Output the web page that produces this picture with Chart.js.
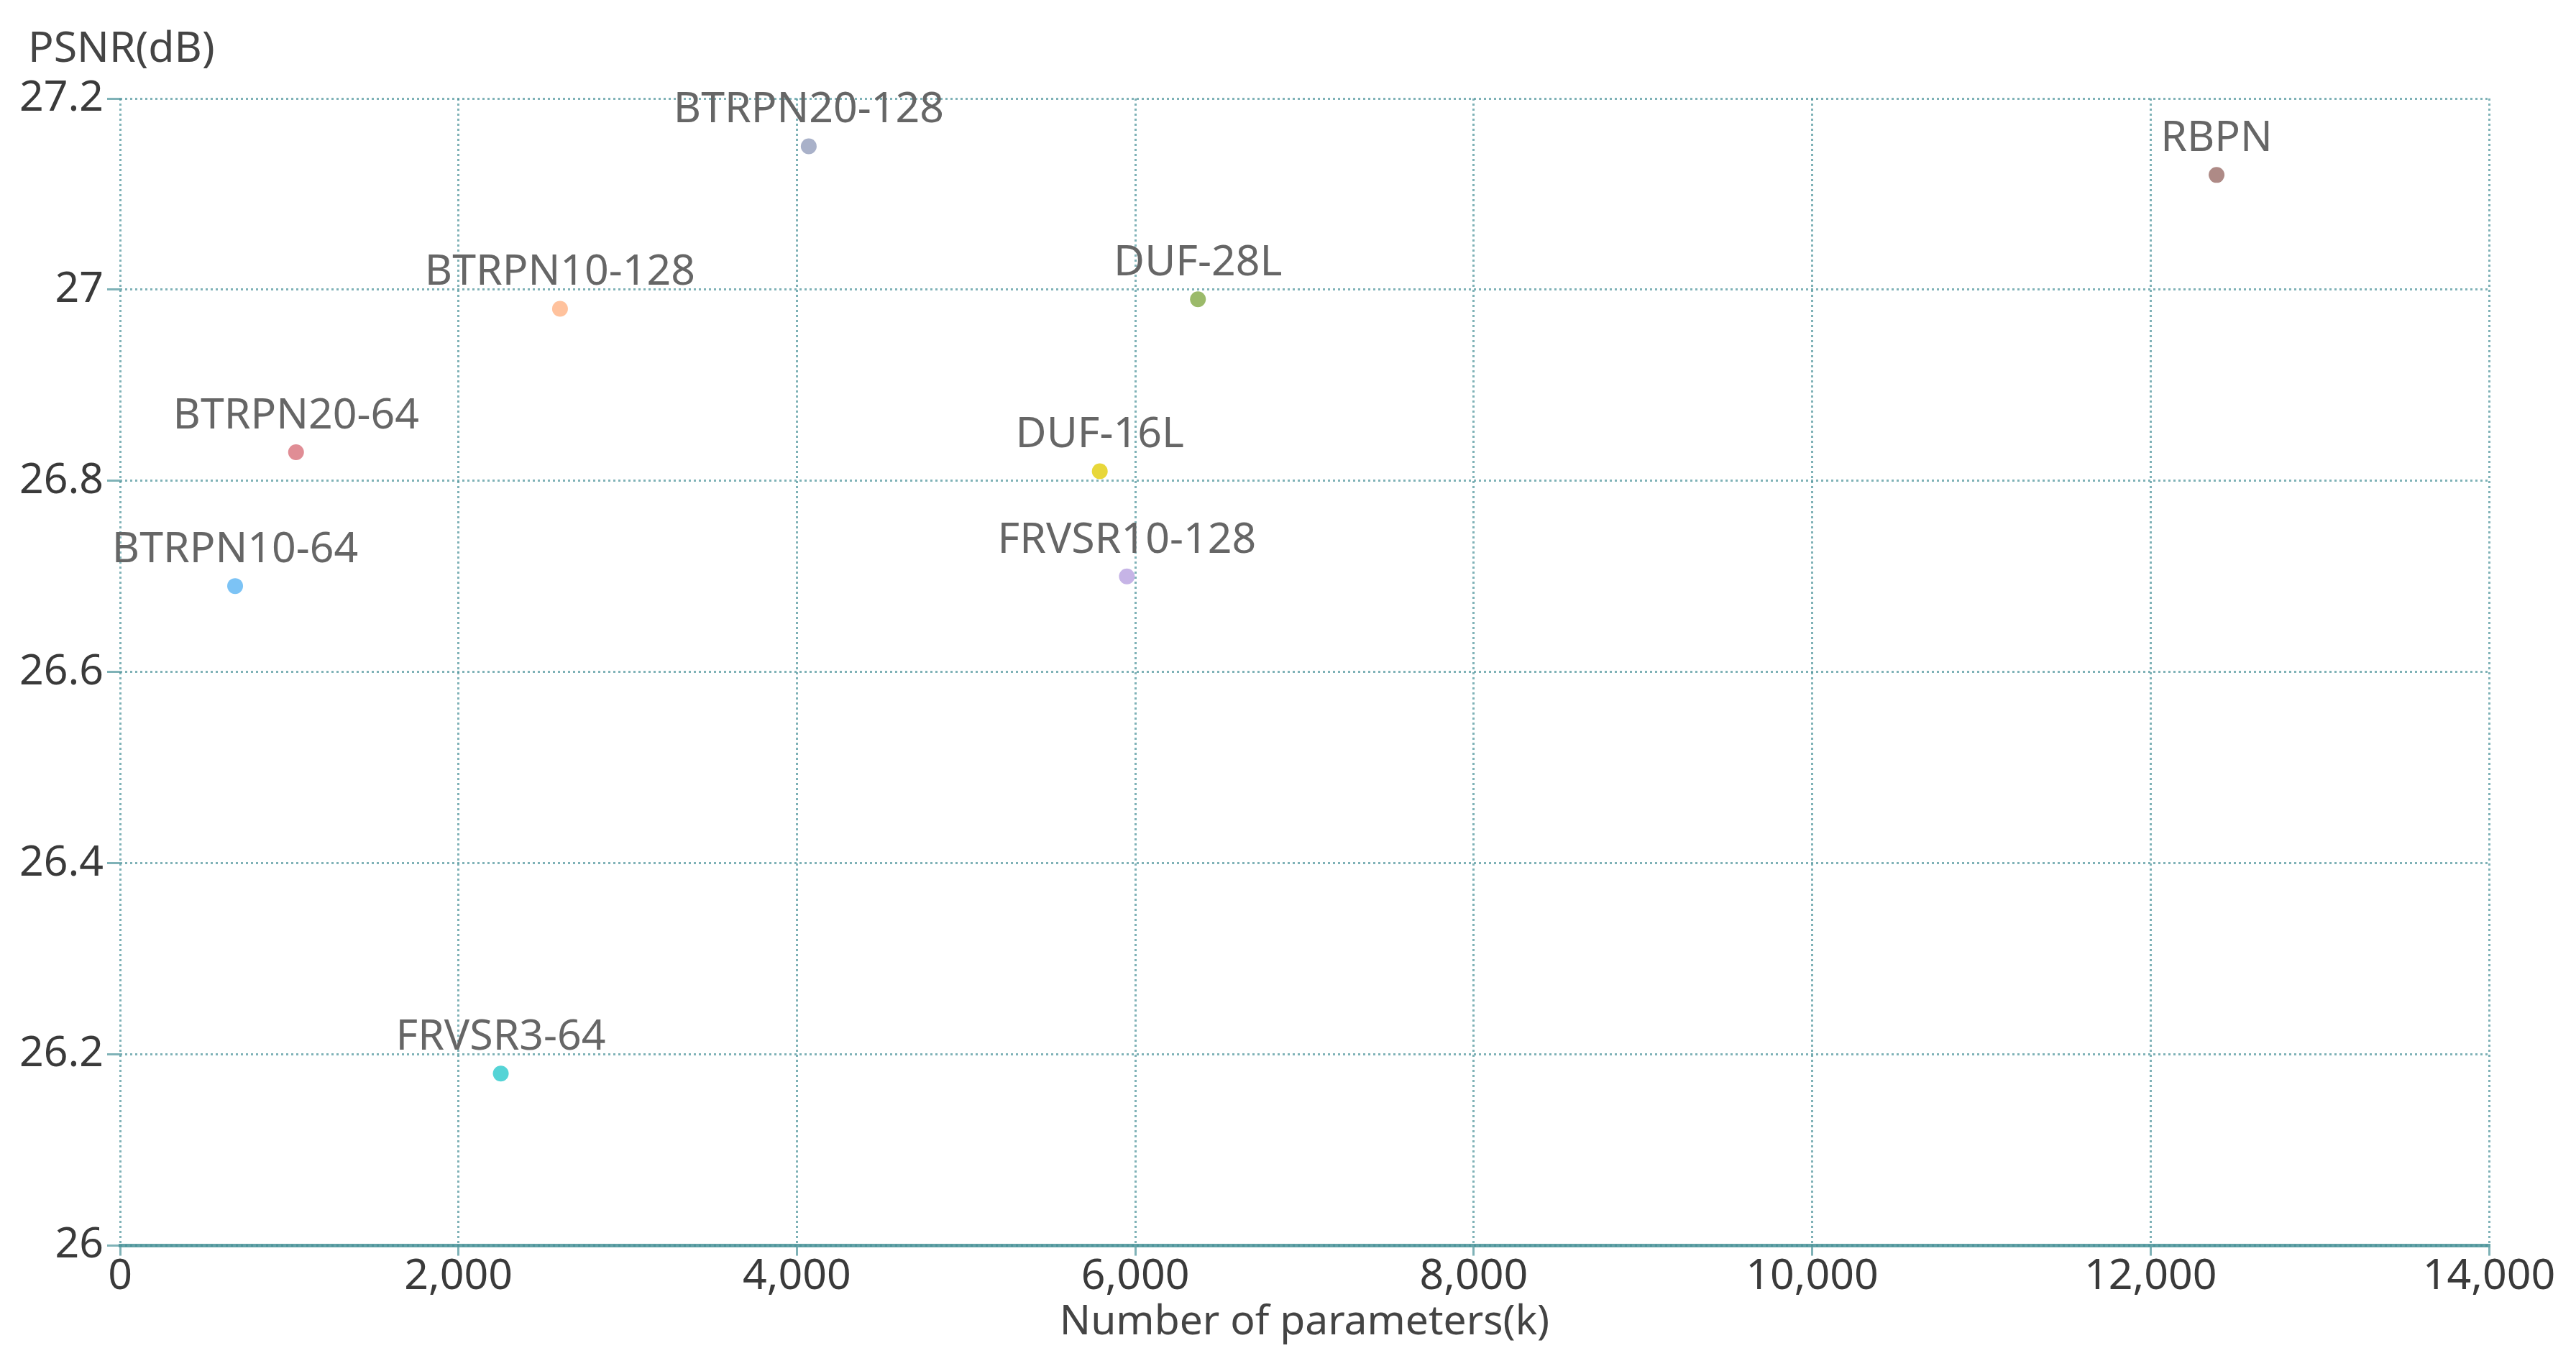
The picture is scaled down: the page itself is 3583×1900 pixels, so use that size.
<!DOCTYPE html>
<html>
<head>
<meta charset="utf-8">
<script src="https://cdn.jsdelivr.net/npm/chart.js@4.4.0/dist/chart.umd.min.js"></script>
<style>
  body { margin: 0; background: #fff; }
  canvas { display: block; }
</style>
</head>
<body>
<canvas id="psnrChart" width="3583" height="1900"></canvas>
<script>
// models and their values
const models = ['BTRPN10-64', 'BTRPN20-64', 'BTRPN10-128', 'BTRPN20-128', 'FRVSR3-64', 'DUF-16L', 'FRVSR10-128', 'DUF-28L', 'RBPN'];
const params = [680, 1040, 2600, 4070, 2250, 5790, 5950, 6370, 12390];
const psnr = [26.69, 26.83, 26.98, 27.15, 26.18, 26.81, 26.70, 26.99, 27.12];
const pointColors = ['#7cc3f5', '#e08d95', '#ffc29d', '#a9b1c9', '#55d4d6', '#e8d73a', '#c6b4e6', '#9bba6a', '#ae8a86'];
const yTitle = 'PSNR(dB)';
const xTitle = 'Number of parameters(k)';

const fontFamily = '"Noto Sans", "Open Sans", sans-serif';
const gridColor = 'rgba(72, 146, 152, 0.7)';

// writes the model name above each point, and the y title above the axis
const pointLabels = {
  id: 'pointLabels',
  afterDatasetsDraw(chart) {
    const ctx = chart.ctx;
    const meta = chart.getDatasetMeta(0);
    ctx.save();
    ctx.font = '59px ' + fontFamily;
    ctx.fillStyle = '#666';
    ctx.textAlign = 'center';
    ctx.textBaseline = 'middle';
    meta.data.forEach((pt, i) => {
      ctx.fillText(models[i], pt.x, pt.y - 50);
    });
    ctx.fillStyle = '#444';
    ctx.textAlign = 'left';
    ctx.fillText(yTitle, 39, chart.chartArea.top - 68);
    ctx.restore();
  }
};

const ctx = document.getElementById('psnrChart').getContext('2d');
new Chart(ctx, {
  type: 'scatter',
  data: {
    datasets: [{
      data: params.map((p, i) => ({ x: p, y: psnr[i] })),
      backgroundColor: pointColors,
      borderColor: pointColors,
      pointRadius: 11,
      borderWidth: 0
    }]
  },
  options: {
    responsive: false,
    animation: false,
    layout: { padding: { left: 0, right: 121, top: 137, bottom: 22 } },
    plugins: {
      legend: { display: false },
      tooltip: { enabled: false }
    },
    scales: {
      x: {
        type: 'linear',
        min: 0,
        max: 14000,
        ticks: {
          stepSize: 2000,
          color: '#3a3a3a',
          padding: 0,
          font: { family: fontFamily, size: 59, lineHeight: 1 }
        },
        grid: {
          color: gridColor,
          lineWidth: 3,
          tickLength: 14,
          tickColor: gridColor,
          tickBorderDash: []
        },
        border: { display: true, color: 'rgba(72, 146, 152, 0.85)', width: 5, dash: [3, 4] },
        title: {
          display: true,
          text: xTitle,
          color: '#444',
          font: { family: fontFamily, size: 57 },
          padding: { top: 0, bottom: 4 }
        }
      },
      y: {
        min: 26,
        max: 27.2,
        afterFit(scale) { scale.width = 167; },
        ticks: {
          stepSize: 0.2,
          color: '#3a3a3a',
          padding: 5,
          font: { family: fontFamily, size: 59 },
          callback: (value) => String(Number(value.toFixed(1)))
        },
        grid: {
          color: gridColor,
          lineWidth: 3,
          tickLength: 18,
          tickColor: gridColor,
          tickBorderDash: []
        },
        border: { display: false, dash: [3, 4] }
      }
    }
  },
  plugins: [pointLabels]
});
</script>
</body>
</html>
